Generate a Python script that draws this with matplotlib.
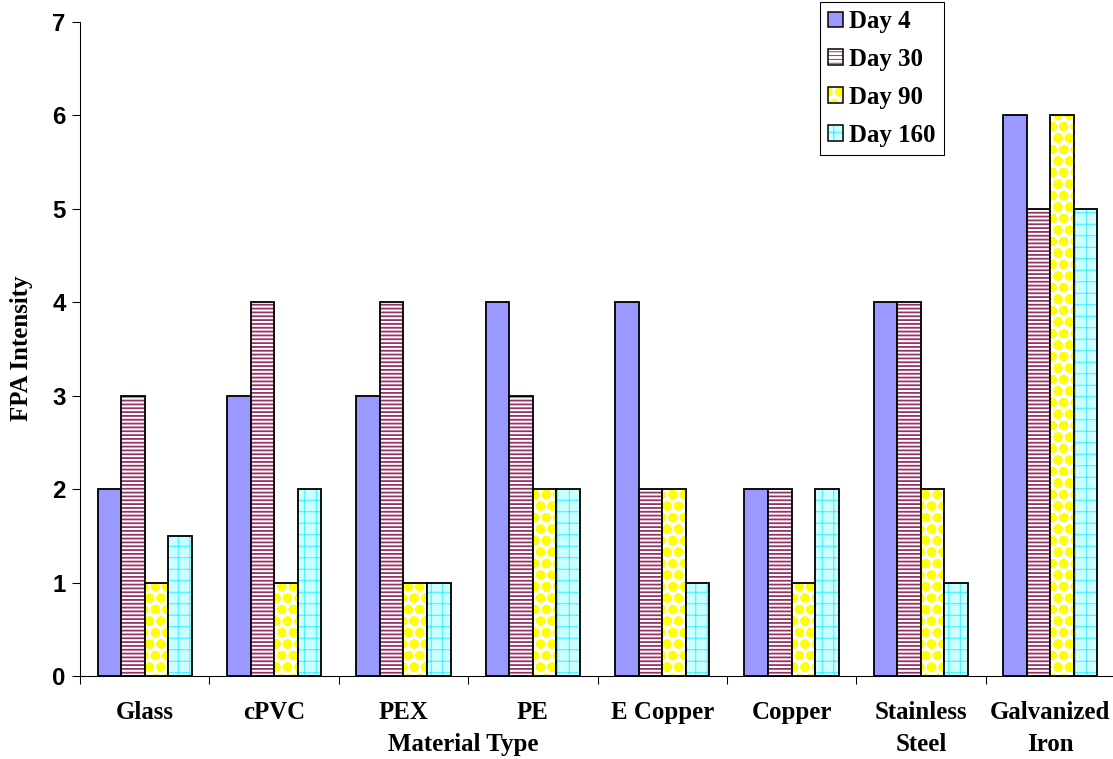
import numpy as np
import matplotlib.pyplot as plt
from matplotlib.patches import Patch
from matplotlib.legend_handler import HandlerTuple

# FPA intensity per pipe material at each sampling day
materials = ['Glass', 'cPVC', 'PEX', 'PE', 'E Copper', 'Copper',
             'Stainless\nSteel', 'Galvanized\nIron']
days = ['Day 4', 'Day 30', 'Day 90', 'Day 160']
day4 = [2, 3, 3, 4, 4, 2, 4, 6]
day30 = [3, 4, 4, 3, 2, 2, 4, 5]
day90 = [1, 1, 1, 2, 2, 1, 2, 6]
day160 = [1.5, 2, 1, 2, 1, 2, 1, 5]
series = [day4, day30, day90, day160]

face_colors = ['#9999ff', 'white', 'white', '#ccffff']
hatch_colors = ['#9999ff', '#993366', '#ffff00', '#33eeff']
hatches = [None, '---', 'Oo.', '+']
hatch_lws = [1.0, 1.9, 1.4, 1.0]

serif = dict(family='Liberation Serif', weight='bold')
sans = dict(family='Liberation Sans', weight='bold')

# dpi 69 so one hatch tile (one inch) is 69 px wide
W, H, DPI = 1113, 759, 69
fig = plt.figure(figsize=(W / DPI, H / DPI), dpi=DPI, facecolor='white')
ax = fig.add_axes([80 / W, 1 - 676 / H, 1035 / W, 654 / H])

x = np.arange(len(materials))
width = 0.182
handles = []
for k, vals in enumerate(series):
    pos = x + (k - 1.5) * width
    with plt.rc_context({'hatch.linewidth': hatch_lws[k]}):
        fill = ax.bar(pos, vals, width, color=face_colors[k],
                      edgecolor=hatch_colors[k], hatch=hatches[k], linewidth=0)
        for b in fill:
            if hasattr(b, 'set_hatch_linewidth'):
                b.set_hatch_linewidth(hatch_lws[k])
        ax.bar(pos, vals, width, facecolor='none', edgecolor='black', linewidth=1.9)
        p1 = Patch(facecolor=face_colors[k], edgecolor=hatch_colors[k],
                   hatch=hatches[k], linewidth=0)
        if hasattr(p1, 'set_hatch_linewidth'):
            p1.set_hatch_linewidth(hatch_lws[k])
    p2 = Patch(facecolor='none', edgecolor='black', linewidth=1.6)
    handles.append((p1, p2))

ax.set_xlim(-0.5, len(materials) - 0.5)
ax.set_ylim(0, 7)
ax.set_yticks(range(8))
ax.set_yticklabels([str(v) for v in range(8)], fontsize=25, **sans)
ax.tick_params(axis='y', direction='out', length=8, width=1.1, pad=7)

ax.set_xticks(x)
ax.set_xticklabels(materials, fontsize=26, linespacing=1.5, **serif)
ax.set_xticks(np.arange(-0.5, len(materials)), minor=True)
ax.tick_params(axis='x', which='major', length=0, pad=26)
ax.tick_params(axis='x', which='minor', direction='out', length=8, width=1.1)

for side in ['top', 'right']:
    ax.spines[side].set_visible(False)
for side in ['left', 'bottom']:
    ax.spines[side].set_linewidth(1.1)

fig.text(463 / W, 1 - 745 / H, 'Material Type', ha='center', va='center',
         fontsize=26, **serif)
fig.text(22 / W, 1 - 348 / H, 'FPA Intensity', ha='center', va='center',
         rotation=90, fontsize=26, **serif)

leg = fig.legend(handles, days, handler_map={tuple: HandlerTuple(ndivide=1, pad=0)},
                 loc='upper left', bbox_to_anchor=(820 / W, 1 - 2 / H),
                 borderaxespad=0, fancybox=False, framealpha=1, edgecolor='black',
                 prop=dict(size=26, **serif), handlelength=0.6, handleheight=0.6,
                 handletextpad=0.25, labelspacing=0.6, borderpad=0.33)
leg.get_frame().set_linewidth(1.1)

fig.savefig('out.png', dpi=DPI)
